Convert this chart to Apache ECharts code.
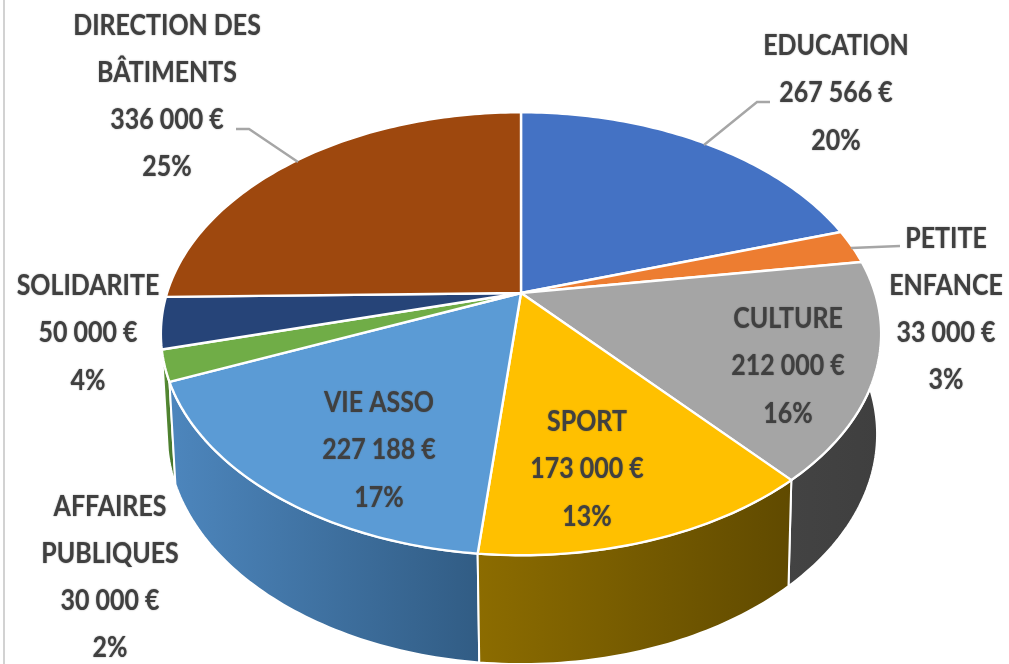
<!DOCTYPE html>
<html><head><meta charset="utf-8">
<style>html,body{margin:0;padding:0;background:#fff}#c{width:1009px;height:664px}</style>
<script src="https://cdn.jsdelivr.net/npm/echarts@6/dist/echarts.min.js"></script>
</head><body><div id="c"></div>
<script>
const categories = ['EDUCATION','PETITE\nENFANCE','CULTURE','SPORT','VIE ASSO','AFFAIRES\nPUBLIQUES','SOLIDARITE','DIRECTION DES\nBÂTIMENTS'];
const values = [267566,33000,212000,173000,227188,30000,50000,336000];
const valueLabels = ['267 566 €','33 000 €','212 000 €','173 000 €','227 188 €','30 000 €','50 000 €','336 000 €'];
const percentLabels = ['20%','3%','16%','13%','17%','2%','4%','25%'];
const topColors = ['#4472c4','#ed7d31','#a5a5a5','#ffc000','#5b9bd5','#70ad47','#264478','#9e480e'];
const wallLeft  = ['#2f5597','#a85a20','#434343','#8c6c00','#4d86bd','#5f9a38','#1c3560','#70330a'];
const wallRight = ['#2f5597','#a85a20','#3f3f3f','#604a00','#315c84','#3f6a28','#1c3560','#70330a'];
const wallOrder = [7,0,6,1,5,2,4,3];

// Layout of the label blocks and leader lines (not data)
const labelCenters = [[836,93],[946,309],[788,366],[587,469],[379,450],[110,577],[88,333],[167,96]];
const leaders = {0:[[704,145],[757,102],[770,102]], 1:[[851,248],[900,246]], 7:[[298,162],[249,129],[236,129]]};

// Perspective projection of the flat disc onto the page
const K=0.184;
const upperRing={x:521,y:293,a:354,b:214};
const lowerRing={x:522,y:392,a:349,b:222};
function project(deg, lower){
  const r=lower?lowerRing:upperRing;
  const t=deg*Math.PI/180, X=Math.sin(t), Y=-Math.cos(t), w=1-K*Y;
  return [r.x+r.a*X/w, r.y+r.b*Y/w];
}
const total = values.reduce((a,b)=>a+b,0);
const bounds=[]; (function(){let s=0; values.forEach(v=>{const e=s+v/total*360; bounds.push([s,e]); s=e;});})();
function arc(a,b,lower){const n=Math.max(2,Math.ceil(Math.abs(b-a))),p=[];for(let i=0;i<=n;i++)p.push(project(a+(b-a)*i/n,lower));return p;}

const chart = echarts.init(document.getElementById('c'),null,{renderer:'canvas'});
chart.setOption({
  animation:false,
  backgroundColor:'#ffffff',
  graphic:[{type:'rect',shape:{x:3,y:0,width:2,height:664},style:{fill:'#d2d2d2'},silent:true}],
  series:[
   {type:'custom',coordinateSystem:'none',silent:true,z:1,
    data:wallOrder.map(i=>values[i]),
    renderItem(p,api){
      const i=wallOrder[p.dataIndex],[s,e]=bounds[i];
      const pts=arc(s,e,false).concat(arc(e,s,true));
      return {type:'polygon',shape:{points:pts},style:{
        fill:new echarts.graphic.LinearGradient(0,0,1,0,[{offset:0,color:wallLeft[i]},{offset:1,color:wallRight[i]}]),
        stroke:'#fff',lineWidth:2}};
    }},
   {type:'custom',coordinateSystem:'none',silent:true,z:2,
    data:values,
    renderItem(p,api){
      const i=p.dataIndex,[s,e]=bounds[i];
      return {type:'polygon',shape:{points:[[upperRing.x,upperRing.y]].concat(arc(s,e,false))},style:{fill:topColors[i],stroke:'#fff',lineWidth:2.4,lineJoin:'round'}};
    }},
   {type:'custom',coordinateSystem:'none',silent:true,z:3,
    data:values,
    renderItem(p,api){
      const i=p.dataIndex,children=[];
      if(leaders[i]) children.push({type:'polyline',shape:{points:leaders[i]},style:{fill:null,stroke:'#a6a6a6',lineWidth:2.4}});
      const [x,y]=labelCenters[i];
      children.push({type:'text',x:x,y:y,scaleX:0.86,style:{
        text:categories[i]+'\n'+valueLabels[i]+'\n'+percentLabels[i],
        x:0,y:0,align:'center',verticalAlign:'middle',lineHeight:47.2,
        font:'bold 29px Lato, "Open Sans", sans-serif',fill:'#404040',
        textShadowColor:'rgba(64,64,64,0.6)',textShadowBlur:1.5}});
      return {type:'group',children:children};
    }}
  ]
});
</script></body></html>
